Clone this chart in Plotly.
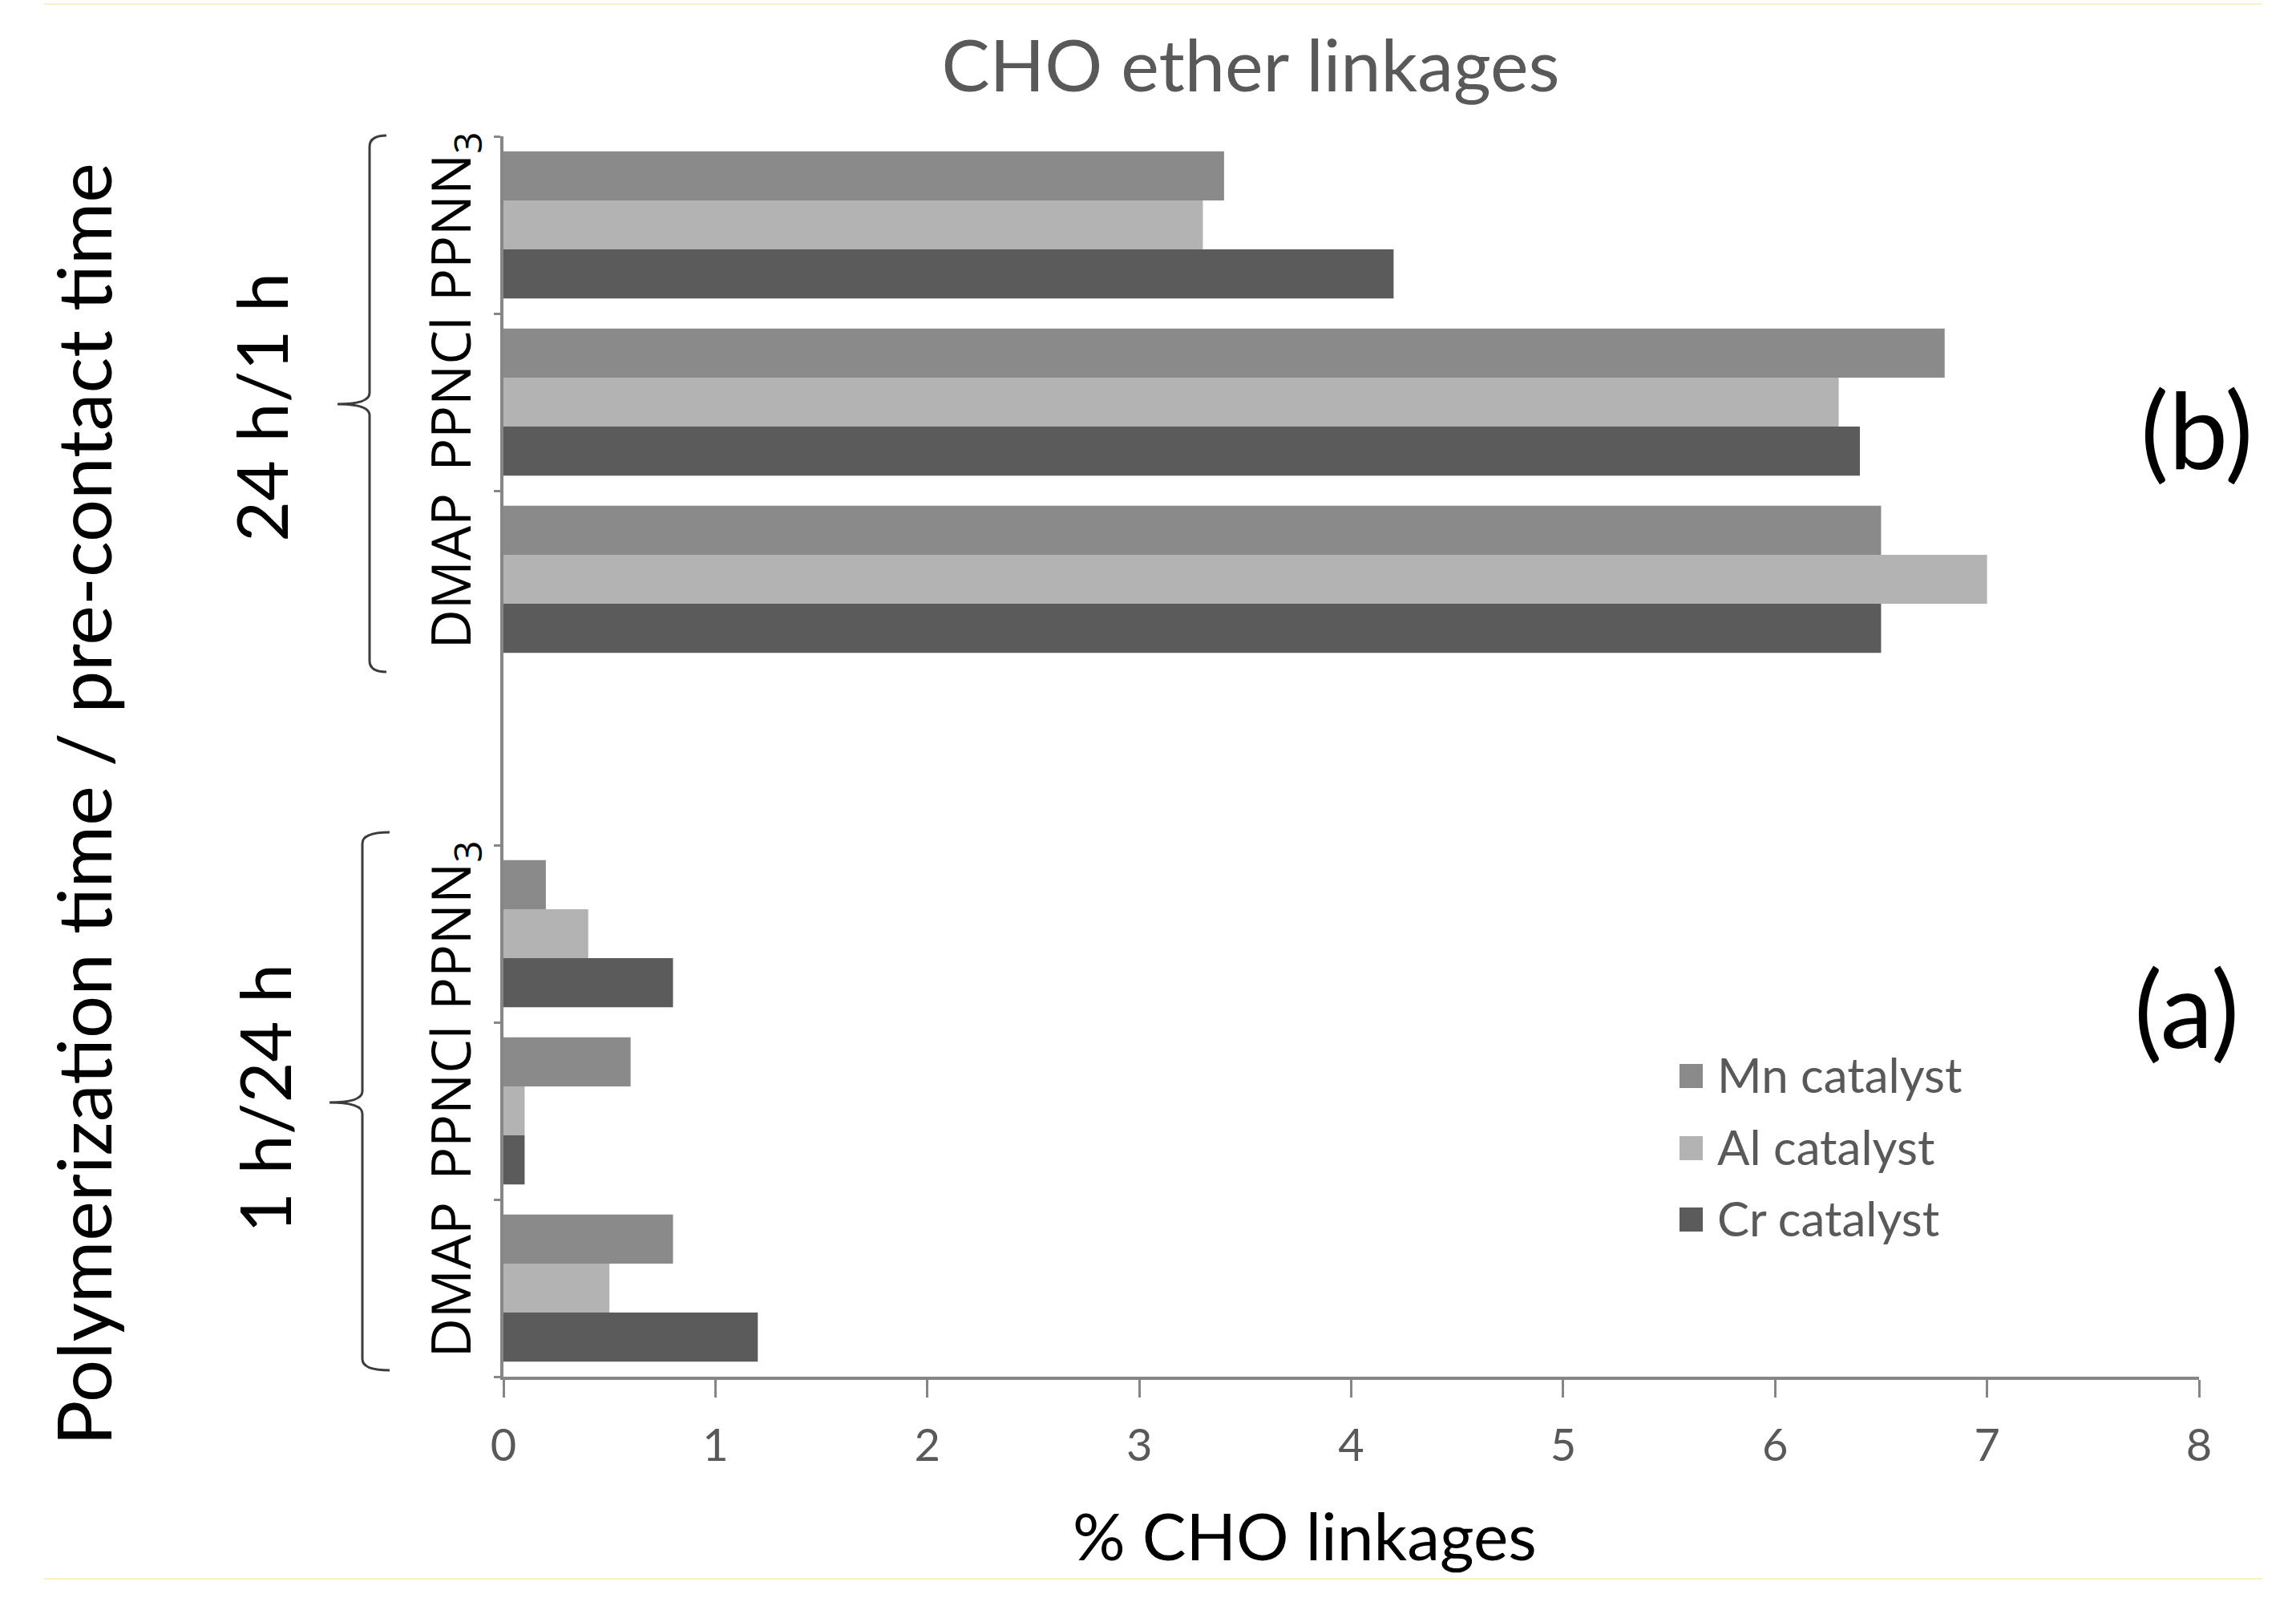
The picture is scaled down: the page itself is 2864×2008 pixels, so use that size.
import plotly.graph_objects as go

# ---------------- data ----------------
categories = ["b_PPNN3", "b_PPNCl", "b_DMAP", "gap", "a_PPNN3", "a_PPNCl", "a_DMAP"]
label_categories = ["b_PPNN3", "b_PPNCl", "b_DMAP", "a_PPNN3", "a_PPNCl", "a_DMAP"]
tick_labels = ["PPNN<sub>3</sub>", "PPNCl", "DMAP", "PPNN<sub>3</sub>", "PPNCl", "DMAP"]
series_names = ["Mn catalyst", "Al catalyst", "Cr catalyst"]
mn_values = [3.4, 6.8, 6.5, None, 0.2, 0.6, 0.8]
al_values = [3.3, 6.3, 7.0, None, 0.4, 0.1, 0.5]
cr_values = [4.2, 6.4, 6.5, None, 0.8, 0.1, 1.2]
series_values = [mn_values, al_values, cr_values]
series_colors = ["#8a8a8a", "#b3b3b3", "#5b5b5b"]
x_ticks = [0, 1, 2, 3, 4, 5, 6, 7, 8]
group_labels = ["24 h/1 h", "1 h/24 h"]
panel_labels = ["(b)", "(a)"]

W, H = 2864, 2008
L, R, T, B = 628, 121, 170, 291
PW, PH = W - L - R, H - T - B

def xp(px):
    return (px - L) / PW

def yp(py):
    return (H - B - py) / PH

CAL = "Lato, 'Open Sans', sans-serif"
GRAY_TXT = "#595959"
AXIS_C = "#868686"

fig = go.Figure()
for name, vals, col in zip(series_names, series_values, series_colors):
    fig.add_trace(go.Bar(
        y=categories, x=vals, name=name, orientation="h",
        marker=dict(color=col, line=dict(width=0)),
        showlegend=False,
    ))

fig.update_layout(
    width=W, height=H,
    margin=dict(l=L, r=R, t=T, b=B, pad=0),
    paper_bgcolor="white", plot_bgcolor="white",
    barmode="group", bargap=0.17, bargroupgap=0.0,
    title=dict(text="CHO ether linkages", xref="container", x=1560 / W, xanchor="center",
               yref="container", y=1 - 82 / H, yanchor="middle",
               font=dict(family=CAL, size=90, color=GRAY_TXT)),
    xaxis=dict(
        range=[0, 8], tickmode="array", tickvals=x_ticks,
        showgrid=False, zeroline=False,
        showline=True, linecolor=AXIS_C, linewidth=4,
        ticks="outside", ticklen=22, tickwidth=3, tickcolor=AXIS_C,
        tickfont=dict(family=CAL, size=56, color=GRAY_TXT),
        ticklabelstandoff=12,
    ),
    yaxis=dict(
        type="category", categoryorder="array", categoryarray=categories,
        range=[6.5, -0.5],
        tickmode="array", tickvals=label_categories, ticktext=tick_labels,
        tickson="boundaries",
        tickangle=-90,
        showgrid=False, zeroline=False,
        showline=True, linecolor=AXIS_C, linewidth=4,
        ticks="outside", ticklen=8, tickwidth=3, tickcolor=AXIS_C,
        tickfont=dict(family="Open Sans", size=68, color="black"),
        ticklabelstandoff=10,
    ),
)

ann = []
# x title
ann.append(dict(text="% CHO linkages", x=xp(1627), y=yp(1914), xref="paper", yref="paper",
                showarrow=False, xanchor="center", yanchor="middle",
                font=dict(family=CAL, size=82, color="black")))
# y title
ann.append(dict(text="Polymerization time / pre-contact time", x=xp(102), y=yp(1003),
                xref="paper", yref="paper", showarrow=False, textangle=-90,
                xanchor="center", yanchor="middle",
                font=dict(family=CAL, size=94, color="black")))
# group labels
for txt, (gx, gy) in zip(group_labels, [(325, 508), (329, 1370)]):
    ann.append(dict(text=txt, x=xp(gx), y=yp(gy), xref="paper", yref="paper",
                    showarrow=False, textangle=-90, xanchor="center", yanchor="middle",
                    font=dict(family=CAL, size=88, color="black")))
# panel labels
for txt, (gx, gy) in zip(panel_labels, [(2740, 534), (2727, 1256)]):
    ann.append(dict(text=txt, x=xp(gx), y=yp(gy), xref="paper", yref="paper",
                    showarrow=False, xanchor="center", yanchor="middle",
                    font=dict(family=CAL, size=132, color="black")))

shapes = []
# custom legend
leg_rows = [1342, 1432, 1521]
for name, col, ry in zip(series_names, series_colors, leg_rows):
    shapes.append(dict(type="rect", xref="paper", yref="paper",
                       x0=xp(2095), x1=xp(2124), y0=yp(ry + 15), y1=yp(ry - 15),
                       fillcolor=col, line=dict(width=0)))
    ann.append(dict(text=name, x=xp(2140), y=yp(ry - 2), xref="paper", yref="paper",
                    showarrow=False, xanchor="left", yanchor="middle",
                    font=dict(family=CAL, size=60, color=GRAY_TXT)))

# braces
def brace(xe, xv, xt, ytop, ytip, ybot, r=14):
    p = (f"M {xp(xe)},{yp(ytop)} Q {xp(xv)},{yp(ytop)} {xp(xv)},{yp(ytop + r)} "
         f"L {xp(xv)},{yp(ytip - r)} Q {xp(xv)},{yp(ytip)} {xp(xt)},{yp(ytip)} "
         f"Q {xp(xv)},{yp(ytip)} {xp(xv)},{yp(ytip + r)} "
         f"L {xp(xv)},{yp(ybot - r)} Q {xp(xv)},{yp(ybot)} {xp(xe)},{yp(ybot)}")
    return dict(type="path", path=p, xref="paper", yref="paper",
                line=dict(color="#3c3c3c", width=3))

shapes.append(brace(482, 461, 421, 169, 504, 838))
shapes.append(brace(486, 452, 411, 1038, 1375, 1709))

# faint yellow border lines
for py in (5, 1969):
    shapes.append(dict(type="line", xref="paper", yref="paper",
                       x0=xp(55), x1=xp(2822), y0=yp(py), y1=yp(py),
                       line=dict(color="#f8f2c0", width=2)))

fig.update_layout(annotations=ann, shapes=shapes)

fig.write_html("out.html", config={"displayModeBar": False},
               post_script="document.body.style.margin='0';")
